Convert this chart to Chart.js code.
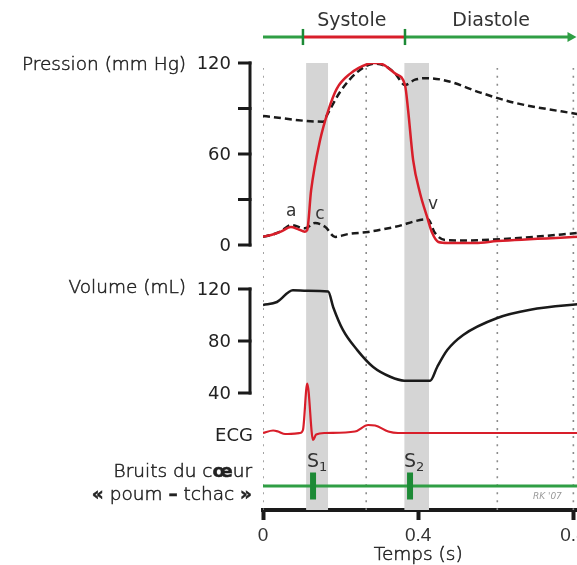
<!DOCTYPE html>
<html lang="fr">
<head>
<meta charset="utf-8">
<title>Diagramme de Wiggers</title>
<script src="https://cdn.jsdelivr.net/npm/chart.js@4.4.1/dist/chart.umd.min.js"></script>
<style>
  html, body { margin: 0; padding: 0; background: #fff; overflow: hidden; }
  #wrap { width: 577px; height: 565px; overflow: hidden; }
  canvas { display: block; }
</style>
</head>
<body>
<div id="wrap"><canvas id="wiggers" width="600" height="565"></canvas></div>
<script>
// --- données (temps en s) ---
const lvTime = [0, 0.021, 0.046, 0.072, 0.09, 0.108, 0.114, 0.124, 0.147, 0.168, 0.19, 0.225, 0.268, 0.287, 0.31, 0.341, 0.366, 0.374, 0.387, 0.405, 0.423, 0.436, 0.452, 0.477, 0.547, 0.604, 0.83];
const lvPressure = [5.5, 6.6, 8.8, 11.9, 10.5, 8.8, 9.9, 36, 69, 88.5, 103, 113, 119.2, 120, 119, 113, 105.5, 89, 56, 34, 18.5, 8, 2, 1.3, 1.3, 2.6, 5.6];

const aoTime = [0, 0.155, 0.165, 0.199, 0.243, 0.287, 0.315, 0.341, 0.366, 0.392, 0.425, 0.477, 0.56, 0.645, 0.83];
const aoPressure = [85, 81.3, 85.7, 101, 114, 119.5, 118, 113, 105.5, 109, 110, 108, 100.5, 94, 85.5];

const laTime = [0, 0.021, 0.046, 0.072, 0.108, 0.134, 0.16, 0.186, 0.219, 0.271, 0.341, 0.425, 0.443, 0.469, 0.52, 0.65, 0.83];
const laPressure = [5.5, 6.6, 9, 13.2, 11, 14.5, 12, 5.3, 7.2, 8.6, 12, 17, 8, 3.3, 3, 4.5, 8.3];

const volTime = [0, 0.036, 0.077, 0.114, 0.168, 0.181, 0.206, 0.243, 0.284, 0.328, 0.364, 0.431, 0.449, 0.475, 0.516, 0.604, 0.689, 0.83];
const volume = [107.7, 110, 119, 118.7, 118, 106, 88.5, 73, 60, 52.5, 49.5, 49.5, 60, 73, 84.6, 97.7, 104, 108.8];

const ecgTime = [0, 0.026, 0.039, 0.057, 0.095, 0.103, 0.114, 0.129, 0.137, 0.16, 0.237, 0.271, 0.289, 0.323, 0.348, 0.83];
const ecgValue = [0, 0.05, 0.03, -0.02, 0, 0.06, 0.99, -0.14, -0.03, 0, 0.03, 0.16, 0.15, 0.03, 0, 0];

const soundTimes = [0.129, 0.379];
const soundNames = ['1', '2'];

const bandStart = [0.111, 0.364];
const bandEnd = [0.168, 0.428];
const gridTimes = [0, 0.266, 0.604, 0.8];

const phaseEdges = [0, 0.103, 0.366, 0.79];
const phaseNames = ['Systole', 'Diastole'];
const phaseLabelTimes = [0.229, 0.588];

const waveNames = ['a', 'c', 'v'];
const waveTimes = [0.073, 0.147, 0.438];
const wavePressures = [21.8, 19.8, 26.4];

const xTicks = [0, 0.4, 0.8];
const pressureTicks = [120, 90, 60, 30, 0];
const pressureLabels = [120, 60, 0];
const volumeTicks = [120, 80, 40];

// --- mise en page ---
const AREA_TOP = 63, AREA_BOTTOM = 510;
const BAR_Y = (AREA_BOTTOM - 37) / (AREA_BOTTOM - AREA_TOP);
const SANS = "'DejaVu Sans', sans-serif";
const RED = '#d81e2a', INK = '#1a1a1a', GREEN = '#2f9e44', GREEN_DARK = '#1d8a36';

// valeur v1 au pixel y1, v2 au pixel y2 -> bornes de l'axe sur toute la zone
function span(v1, y1, v2, y2) {
  const k = (v1 - v2) / (y2 - y1);
  return { min: v2 - (AREA_BOTTOM - y2) * k, max: v1 + (y1 - AREA_TOP) * k };
}

const pts = (xs, ys) => xs.map((x, i) => ({ x, y: ys[i] }));
const curve = (xs, ys, axis, extra) => Object.assign({
  data: pts(xs, ys), yAxisID: axis, pointRadius: 0, borderWidth: 2.5,
  cubicInterpolationMode: 'monotone', fill: false
}, extra);

const datasets = [
  curve(lvTime, lvPressure, 'yP', { borderColor: RED, order: 1 }),
  curve(aoTime, aoPressure, 'yP', { borderColor: INK, borderDash: [7, 4], order: 2 }),
  curve(laTime, laPressure, 'yP', { borderColor: INK, borderDash: [7, 4], order: 2 }),
  curve(volTime, volume, 'yV', { borderColor: INK, order: 3 }),
  curve(ecgTime, ecgValue, 'yE', { borderColor: RED, borderWidth: 2.2, order: 3 }),
  curve([0, 0.83], [0, 0], 'yS', { borderColor: GREEN, borderWidth: 3, order: 4 })
];

soundTimes.forEach(t => datasets.push(curve([t, t], [-1, 1], 'yS', {
  borderColor: GREEN_DARK, borderWidth: 6, borderCapStyle: 'butt', order: 3
})));

// barre systole / diastole (au-dessus de la zone du graphique)
for (let i = 0; i < phaseEdges.length - 1; i++) {
  datasets.push(curve([phaseEdges[i], phaseEdges[i + 1]], [BAR_Y, BAR_Y], 'yF', {
    borderColor: i === 1 ? RED : GREEN, borderWidth: 3, clip: false, order: 5
  }));
}
[phaseEdges[1], phaseEdges[2]].forEach(t => datasets.push(curve([t, t], [BAR_Y - 0.018, BAR_Y + 0.018], 'yF', {
  borderColor: GREEN_DARK, borderWidth: 2.5, clip: false, order: 4
})));

gridTimes.forEach(t => datasets.push(curve([t, t], [0, 1], 'yF', {
  borderColor: '#8c8c8c', borderWidth: 1.6, borderDash: [2, 6], order: 9
})));

bandStart.forEach((s, i) => datasets.push({
  data: pts([s, bandEnd[i]], [1, 1]), yAxisID: 'yF', pointRadius: 0, borderWidth: 0,
  fill: 'origin', backgroundColor: '#d5d5d5', order: 10
}));

// texte fin un peu épaissi
function thinText(ctx, text, x, y) {
  ctx.fillText(text, x, y);
  ctx.strokeText(text, x, y);
}

function richRight(ctx, parts, xRight, y) {
  let w = 0;
  parts.forEach(p => { ctx.font = p[1]; w += ctx.measureText(p[0]).width; });
  let x = xRight - w;
  ctx.textAlign = 'left';
  parts.forEach(p => { ctx.font = p[1]; thinText(ctx, p[0], x, y); x += ctx.measureText(p[0]).width; });
}

const decor = {
  id: 'decor',
  afterDraw(chart) {
    const { ctx, chartArea, scales } = chart;
    const { x, yP, yV, yE, yS, yF } = scales;
    const bx = chartArea.left - 13;
    const light = '200 18.5px ' + SANS, bold = 'bold 18.5px ' + SANS;
    ctx.save();
    ctx.textBaseline = 'middle';

    function bracket(scale, ticks, labels) {
      ctx.strokeStyle = INK; ctx.lineWidth = 3; ctx.lineCap = 'butt';
      const top = scale.getPixelForValue(ticks[0]), bot = scale.getPixelForValue(ticks[ticks.length - 1]);
      ctx.beginPath(); ctx.moveTo(bx, top - 1.5); ctx.lineTo(bx, bot + 1.5); ctx.stroke();
      ticks.forEach(v => {
        const py = scale.getPixelForValue(v);
        ctx.beginPath(); ctx.moveTo(bx - 12, py); ctx.lineTo(bx + 1.5, py); ctx.stroke();
      });
      ctx.fillStyle = '#222'; ctx.font = '18px ' + SANS; ctx.textAlign = 'right';
      labels.forEach(v => ctx.fillText(String(v), bx - 19, scale.getPixelForValue(v) + 1));
    }
    bracket(yP, pressureTicks, pressureLabels);
    bracket(yV, volumeTicks, volumeTicks);

    ctx.fillStyle = '#222'; ctx.strokeStyle = '#222'; ctx.lineWidth = 0.5;
    ctx.textAlign = 'right'; ctx.font = light;
    thinText(ctx, 'Pression (mm Hg)', bx - 64, yP.getPixelForValue(120) + 2);
    thinText(ctx, 'Volume (mL)', bx - 64, yV.getPixelForValue(120) - 1);
    const s0 = yS.getPixelForValue(0);
    richRight(ctx, [['Bruits du c', light], ['œ', bold], ['ur', light]], chartArea.left - 11, s0 - 14);
    richRight(ctx, [['«', bold], [' poum ', light], ['–', bold], [' tchac ', light], ['»', bold]], chartArea.left - 11, s0 + 9);
    ctx.font = '18px ' + SANS; ctx.textAlign = 'right';
    ctx.fillText('ECG', chartArea.left - 10, yE.getPixelForValue(0) + 3);

    // titre de l'axe du temps
    ctx.font = light; ctx.textAlign = 'center';
    thinText(ctx, 'Temps (s)', (x.getPixelForValue(0.4)), chart.height - 10);

    // ondes a, c, v
    ctx.font = '17px ' + SANS; ctx.textAlign = 'center'; ctx.fillStyle = '#333';
    waveNames.forEach((n, i) => ctx.fillText(n, x.getPixelForValue(waveTimes[i]), yP.getPixelForValue(wavePressures[i])));

    // S1, S2
    soundTimes.forEach((t, i) => {
      const px = x.getPixelForValue(t), py = s0 - 24;
      ctx.font = '19px ' + SANS; ctx.textAlign = 'center';
      ctx.fillText('S', px, py);
      const w = ctx.measureText('S').width;
      ctx.font = '13px ' + SANS; ctx.textAlign = 'left';
      ctx.fillText(soundNames[i], px + w / 2, py + 6);
    });

    // pointe de flèche de la barre diastole
    const ax = x.getPixelForValue(phaseEdges[phaseEdges.length - 1]);
    const ay = yF.getPixelForValue(BAR_Y);
    ctx.fillStyle = GREEN;
    ctx.beginPath(); ctx.moveTo(ax + 7, ay); ctx.lineTo(ax - 2, ay - 5); ctx.lineTo(ax - 2, ay + 5); ctx.closePath(); ctx.fill();

    // systole / diastole
    ctx.font = '19px ' + SANS; ctx.textAlign = 'center'; ctx.fillStyle = '#333';
    phaseNames.forEach((n, i) => ctx.fillText(n, x.getPixelForValue(phaseLabelTimes[i]), chartArea.top - 42));

    ctx.font = 'italic 9px ' + SANS; ctx.fillStyle = '#9a9a9a';
    ctx.fillText("RK '07", x.getPixelForValue(0.733), s0 + 11);
    ctx.restore();
  }
};

new Chart(document.getElementById('wiggers'), {
  type: 'line',
  data: { datasets },
  plugins: [decor],
  options: {
    responsive: false,
    animation: false,
    devicePixelRatio: 1,
    layout: { padding: { left: 263, top: AREA_TOP, right: 15, bottom: 0 } },
    plugins: { legend: { display: false }, tooltip: { enabled: false } },
    scales: {
      x: {
        type: 'linear', min: 0, max: 0.83,
        afterBuildTicks: s => { s.ticks = xTicks.map(v => ({ value: v })); },
        afterFit: s => { s.height = 565 - AREA_BOTTOM; },
        ticks: { color: '#333', padding: 4, font: { family: 'Liberation Sans', size: 19 }, callback: v => v === 0 ? '0' : v.toFixed(1) },
        grid: { drawOnChartArea: false, tickLength: 10, tickWidth: 4, tickColor: INK },
        border: { color: INK, width: 4 }
      },
      yP: Object.assign({ display: false }, span(120, 63, 0, 245)),
      yV: Object.assign({ display: false }, span(120, 289, 40, 393)),
      yE: Object.assign({ display: false }, span(1, 383, 0, 433)),
      yS: Object.assign({ display: false }, span(1, 472.5, 0, 486)),
      yF: { display: false, min: 0, max: 1 }
    }
  }
});
</script>
</body>
</html>
